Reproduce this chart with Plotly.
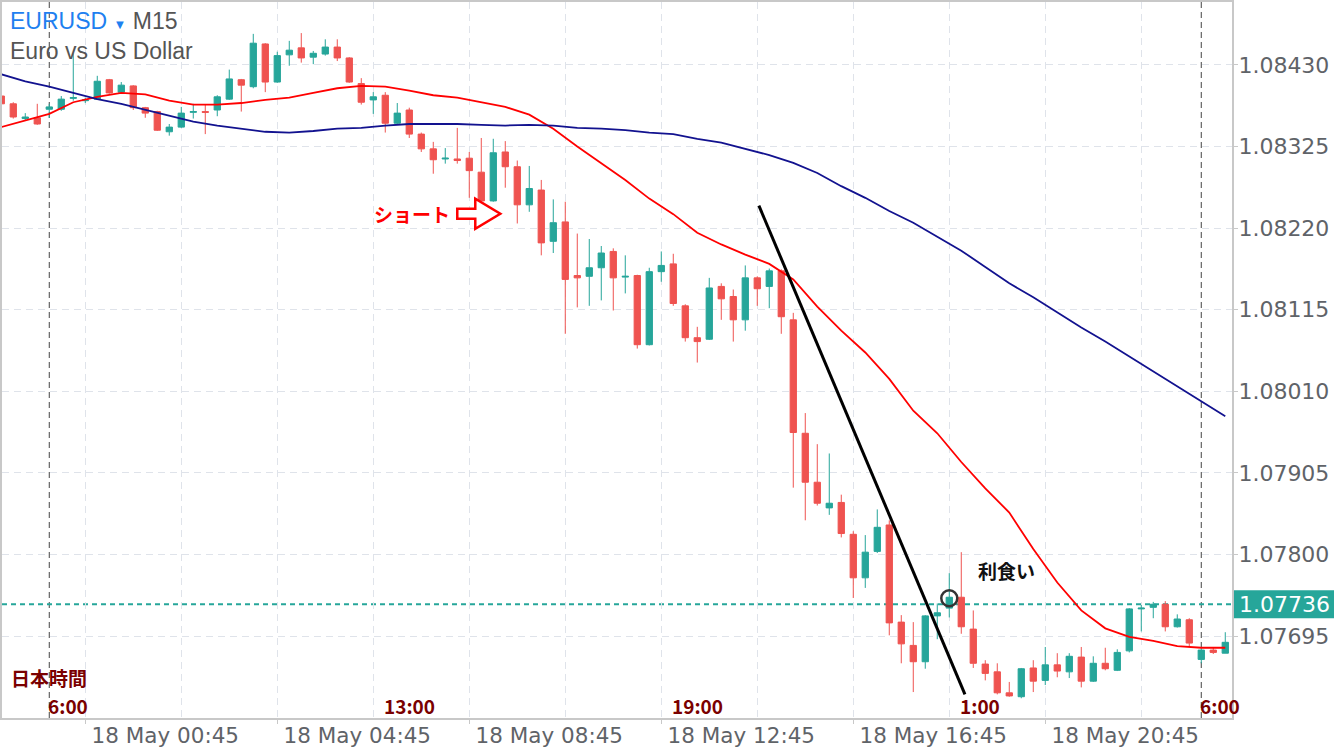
import pandas as pd
import plotly.graph_objects as go

# EURUSD M15, server time, first bar 17 May 23:00
opens = [
    1.08390, 1.08380, 1.08361, 1.08362, 1.08373, 1.08373, 1.08387, 1.08384, 1.08386, 1.08411,
    1.08395, 1.08403, 1.08375, 1.08370, 1.08344, 1.08350, 1.08369, 1.08370, 1.08372, 1.08386,
    1.08411, 1.08402, 1.08457, 1.08408, 1.08443, 1.08452, 1.08440, 1.08444, 1.08453, 1.08439,
    1.08406, 1.08385, 1.08391, 1.08355, 1.08372, 1.08341, 1.08322, 1.08309, 1.08309, 1.08310,
    1.08292, 1.08255, 1.08318, 1.08299, 1.08250, 1.08269, 1.08203, 1.08228, 1.08159, 1.08158,
    1.08169, 1.08190, 1.08157, 1.08159, 1.08070, 1.08164, 1.08174, 1.08120, 1.08079, 1.08077,
    1.08145, 1.08132, 1.08102, 1.08156, 1.08145, 1.08165, 1.08102, 1.07956, 1.07893, 1.07860,
    1.07867, 1.07826, 1.07770, 1.07804, 1.07838, 1.07713, 1.07683, 1.07662, 1.07721, 1.07731,
    1.07745, 1.07704, 1.07659, 1.07649, 1.07622, 1.07617, 1.07654, 1.07638, 1.07658, 1.07649,
    1.07668, 1.07637, 1.07660, 1.07651, 1.07676, 1.07730, 1.07732, 1.07736, 1.07707, 1.07716,
    1.07665, 1.07677, 1.07673,
]
highs = [
    1.08393, 1.08382, 1.08368, 1.08380, 1.08380, 1.08390, 1.08445, 1.08388, 1.08416, 1.08412,
    1.08408, 1.08404, 1.08376, 1.08371, 1.08354, 1.08376, 1.08380, 1.08379, 1.08391, 1.08424,
    1.08412, 1.08470, 1.08458, 1.08447, 1.08461, 1.08471, 1.08448, 1.08463, 1.08463, 1.08440,
    1.08413, 1.08395, 1.08395, 1.08381, 1.08375, 1.08343, 1.08331, 1.08323, 1.08349, 1.08318,
    1.08336, 1.08335, 1.08332, 1.08307, 1.08300, 1.08282, 1.08257, 1.08254, 1.08213, 1.08206,
    1.08197, 1.08194, 1.08185, 1.08160, 1.08169, 1.08190, 1.08187, 1.08122, 1.08093, 1.08156,
    1.08149, 1.08141, 1.08172, 1.08158, 1.08168, 1.08167, 1.08111, 1.07982, 1.07942, 1.07930,
    1.07877, 1.07830, 1.07825, 1.07858, 1.07844, 1.07722, 1.07713, 1.07722, 1.07737, 1.07776,
    1.07803, 1.07728, 1.07664, 1.07660, 1.07636, 1.07654, 1.07664, 1.07681, 1.07673, 1.07673,
    1.07681, 1.07669, 1.07680, 1.07678, 1.07731, 1.07735, 1.07739, 1.07740, 1.07723, 1.07718,
    1.07680, 1.07680, 1.07700,
]
lows = [
    1.08377, 1.08361, 1.08359, 1.08353, 1.08362, 1.08371, 1.08384, 1.08381, 1.08385, 1.08393,
    1.08394, 1.08372, 1.08362, 1.08345, 1.08339, 1.08349, 1.08361, 1.08341, 1.08364, 1.08385,
    1.08370, 1.08400, 1.08395, 1.08407, 1.08429, 1.08433, 1.08431, 1.08442, 1.08435, 1.08407,
    1.08379, 1.08367, 1.08343, 1.08354, 1.08336, 1.08318, 1.08290, 1.08303, 1.08303, 1.08259,
    1.08254, 1.08254, 1.08272, 1.08226, 1.08241, 1.08185, 1.08188, 1.08084, 1.08118, 1.08120,
    1.08127, 1.08114, 1.08136, 1.08065, 1.08069, 1.08151, 1.08120, 1.08074, 1.08047, 1.08076,
    1.08102, 1.08074, 1.08088, 1.08120, 1.08117, 1.08084, 1.07886, 1.07844, 1.07863, 1.07851,
    1.07822, 1.07744, 1.07757, 1.07802, 1.07696, 1.07660, 1.07623, 1.07653, 1.07691, 1.07719,
    1.07698, 1.07654, 1.07638, 1.07620, 1.07617, 1.07615, 1.07623, 1.07632, 1.07642, 1.07641,
    1.07629, 1.07636, 1.07651, 1.07650, 1.07674, 1.07701, 1.07718, 1.07701, 1.07706, 1.07681,
    1.07660, 1.07672, 1.07673,
]
closes = [
    1.08380, 1.08363, 1.08363, 1.08354, 1.08376, 1.08386, 1.08388, 1.08385, 1.08409, 1.08394,
    1.08404, 1.08375, 1.08368, 1.08346, 1.08350, 1.08368, 1.08370, 1.08369, 1.08389, 1.08412,
    1.08404, 1.08458, 1.08408, 1.08442, 1.08449, 1.08439, 1.08445, 1.08453, 1.08439, 1.08408,
    1.08382, 1.08389, 1.08355, 1.08368, 1.08341, 1.08322, 1.08308, 1.08310, 1.08307, 1.08294,
    1.08255, 1.08317, 1.08299, 1.08250, 1.08271, 1.08201, 1.08227, 1.08154, 1.08156, 1.08169,
    1.08188, 1.08156, 1.08158, 1.08070, 1.08164, 1.08172, 1.08123, 1.08079, 1.08074, 1.08143,
    1.08129, 1.08102, 1.08156, 1.08142, 1.08165, 1.08106, 1.07957, 1.07893, 1.07866, 1.07866,
    1.07827, 1.07770, 1.07803, 1.07835, 1.07712, 1.07685, 1.07662, 1.07721, 1.07725, 1.07745,
    1.07707, 1.07660, 1.07647, 1.07622, 1.07618, 1.07653, 1.07637, 1.07658, 1.07650, 1.07669,
    1.07637, 1.07660, 1.07653, 1.07674, 1.07730, 1.07731, 1.07736, 1.07707, 1.07717, 1.07686,
    1.07677, 1.07674, 1.07687,
]

# moving averages, read at every second bar
ma_red = [
    1.08350, 1.08359, 1.08367, 1.08382, 1.08389, 1.08394, 1.08392, 1.08384, 1.08379, 1.08379,
    1.08381, 1.08385, 1.08388, 1.08394, 1.08400, 1.08403, 1.08402, 1.08397, 1.08391, 1.08388,
    1.08382, 1.08376, 1.08366, 1.08348, 1.08325, 1.08304, 1.08282, 1.08258, 1.08238, 1.08214,
    1.08199, 1.08186, 1.08174, 1.08154, 1.08119, 1.08088, 1.08060, 1.08026, 1.07985, 1.07956,
    1.07919, 1.07885, 1.07854, 1.07807, 1.07764, 1.07728, 1.07705, 1.07694, 1.07689, 1.07682,
    1.07680, 1.07680,
]
ma_blue = [
    1.08418, 1.08409, 1.08402, 1.08394, 1.08386, 1.08380, 1.08372, 1.08364, 1.08357, 1.08352,
    1.08348, 1.08344, 1.08343, 1.08345, 1.08348, 1.08349, 1.08352, 1.08354, 1.08354, 1.08354,
    1.08353, 1.08352, 1.08353, 1.08352, 1.08349, 1.08348, 1.08346, 1.08343, 1.08341, 1.08335,
    1.08330, 1.08322, 1.08314, 1.08304, 1.08291, 1.08274, 1.08259, 1.08242, 1.08227, 1.08209,
    1.08191, 1.08170, 1.08149, 1.08131, 1.08111, 1.08092, 1.08074, 1.08055, 1.08035, 1.08016,
    1.07997, 1.07978,
]

price_ticks = [1.08430, 1.08325, 1.08220, 1.08115, 1.08010, 1.07905, 1.07800, 1.07695]
time_ticks = ["2023-05-18 00:45", "2023-05-18 04:45", "2023-05-18 08:45",
              "2023-05-18 12:45", "2023-05-18 16:45", "2023-05-18 20:45"]
time_labels = ["18 May 00:45", "18 May 04:45", "18 May 08:45",
               "18 May 12:45", "18 May 16:45", "18 May 20:45"]
grid_times = ["2023-05-18 02:45", "2023-05-18 06:45", "2023-05-18 10:45",
              "2023-05-18 14:45", "2023-05-18 18:45", "2023-05-18 22:45"]
jst_times = ["2023-05-18 00:00", "2023-05-18 07:00", "2023-05-18 13:00",
             "2023-05-18 19:00", "2023-05-19 00:00"]
jst_labels = ["6:00", "13:00", "19:00", "1:00", "6:00"]
day_marks = ["2023-05-18 00:00", "2023-05-19 00:00"]
last_price = 1.07736

times = pd.date_range("2023-05-17 23:00", periods=len(opens), freq="15min")

GREEN = "#26a69a"
RED = "#ef5350"
GRID = "#dfe3ea"
MAROON = "#7a0000"
JP = "Noto Sans CJK JP"

fig = go.Figure()
fig.add_trace(go.Candlestick(
    x=times, open=opens, high=highs, low=lows, close=closes,
    increasing=dict(line=dict(color=GREEN, width=1), fillcolor=GREEN),
    decreasing=dict(line=dict(color=RED, width=1), fillcolor=RED),
    showlegend=False, hoverinfo="skip",
))
fig.add_trace(go.Scatter(x=times[::2], y=ma_red, mode="lines",
                         line=dict(color="#ff0000", width=1.8), showlegend=False))
fig.add_trace(go.Scatter(x=times[::2], y=ma_blue, mode="lines",
                         line=dict(color="#12128f", width=1.8), showlegend=False))

# day separators
for t in day_marks:
    fig.add_shape(type="line", xref="x", yref="paper", x0=t, x1=t, y0=0, y1=1,
                  line=dict(color="#444444", width=1, dash="6px,4px"), layer="below")

# current price line + label
fig.add_shape(type="line", xref="paper", yref="y", x0=0, x1=1, y0=last_price, y1=last_price,
              line=dict(color=GREEN, width=2, dash="5px,4px"), layer="below")
fig.add_shape(type="rect", xref="paper", yref="y", x0=1.0016, x1=1.1,
              y0=last_price - 0.00018, y1=last_price + 0.00018,
              fillcolor=GREEN, line=dict(width=0))
fig.add_annotation(xref="paper", yref="y", x=1.004, y=last_price, text=f"{last_price:.5f}",
                   showarrow=False, xanchor="left", yanchor="middle",
                   font=dict(family="DejaVu Sans", size=22, color="white"))

# trend line
fig.add_shape(type="line", xref="x", yref="y",
              x0="2023-05-18 14:47", y0=1.08249, x1="2023-05-18 19:04:36", y1=1.07620,
              line=dict(color="black", width=3))

# short entry arrow
fig.add_shape(type="path", xref="x", yref="y", xsizemode="pixel", ysizemode="pixel",
              xanchor="2023-05-18 08:30", yanchor=1.082385,
              path="M 0,5 L 18,5 L 18,15 L 43,0 L 18,-15 L 18,-5 L 0,-5 Z",
              fillcolor="white", line=dict(color="#ff0000", width=2.5))
fig.add_annotation(x="2023-05-18 08:30", y=1.082385, text="<b>ショート</b>", showarrow=False,
                   xanchor="right", yanchor="middle", xshift=-5,
                   font=dict(family=JP, size=19, color="#ff0000"))

# take profit marker
fig.add_shape(type="circle", xref="x", yref="y", xsizemode="pixel", ysizemode="pixel",
              xanchor="2023-05-18 18:45", yanchor=1.077438, x0=-8, x1=8, y0=-8, y1=8,
              line=dict(color="#333333", width=2.5))
fig.add_annotation(x="2023-05-18 19:15", y=1.07780, text="<b>利食い</b>", showarrow=False,
                   xanchor="left", yanchor="middle", xshift=3,
                   font=dict(family=JP, size=19, color="#111111"))

# Japan time labels
for t, lab in zip(jst_times, jst_labels):
    fig.add_annotation(x=t, xref="x", yref="paper", y=0.018, text=f"<b>{lab}</b>",
                       showarrow=False, xanchor="left", yanchor="middle", xshift=-3,
                       font=dict(family=JP, size=19, color=MAROON))
fig.add_annotation(xref="paper", yref="paper", x=0.006, y=0.057, text="<b>日本時間</b>",
                   showarrow=False, xanchor="left", yanchor="middle",
                   font=dict(family=JP, size=19, color=MAROON))

# header
fig.add_annotation(xref="paper", yref="paper", x=0.005, y=0.9735,
                   text="<span style='color:#1e80f0'>EURUSD</span> "
                        "<span style='color:#1e80f0;font-size:13px'>▼</span> M15",
                   showarrow=False, xanchor="left", yanchor="middle",
                   font=dict(family="Liberation Sans", size=23, color="#555555"))
fig.add_annotation(xref="paper", yref="paper", x=0.005, y=0.931, text="Euro vs US Dollar",
                   showarrow=False, xanchor="left", yanchor="middle",
                   font=dict(family="Liberation Sans", size=23, color="#555555"))

fig.update_layout(
    width=1334, height=750,
    margin=dict(l=2, r=102, t=2, b=32, autoexpand=False),
    paper_bgcolor="white", plot_bgcolor="white",
    boxgap=0.25, hovermode=False,
    xaxis=dict(
        type="date", range=["2023-05-17 23:00:54", "2023-05-19 00:38:24"],
        rangeslider=dict(visible=False),
        tickmode="array", tickvals=time_ticks, ticktext=time_labels,
        ticks="outside", ticklen=4, tickcolor="#c8c8c8",
        ticklabelshift=80, ticklabelstandoff=-7,
        tickfont=dict(family="DejaVu Sans", size=21.5, color="#5f6368"),
        showgrid=True, gridcolor=GRID, griddash="7px,5px", gridwidth=1,
        minor=dict(tickmode="array", tickvals=grid_times, showgrid=True,
                   gridcolor=GRID, griddash="7px,5px", gridwidth=1, ticks=""),
        showline=True, linecolor="#c8c8c8", linewidth=2, mirror=True,
        zeroline=False, fixedrange=True,
    ),
    yaxis=dict(
        side="right", range=[1.075896, 1.085110],
        tickmode="array", tickvals=price_ticks, tickformat=".5f",
        ticks="outside", ticklen=4, tickcolor="#c8c8c8", ticklabelstandoff=-4,
        tickfont=dict(family="DejaVu Sans", size=22, color="#5f6368"),
        showgrid=True, gridcolor=GRID, griddash="7px,5px", gridwidth=1,
        showline=True, linecolor="#c8c8c8", linewidth=2, mirror=True,
        zeroline=False, fixedrange=True,
    ),
)

# the page body has a default 8px margin; drop it so the figure sits at the corner
fig.write_html("out.html", config={"displayModeBar": False},
               post_script="document.body.style.margin='0px';")
